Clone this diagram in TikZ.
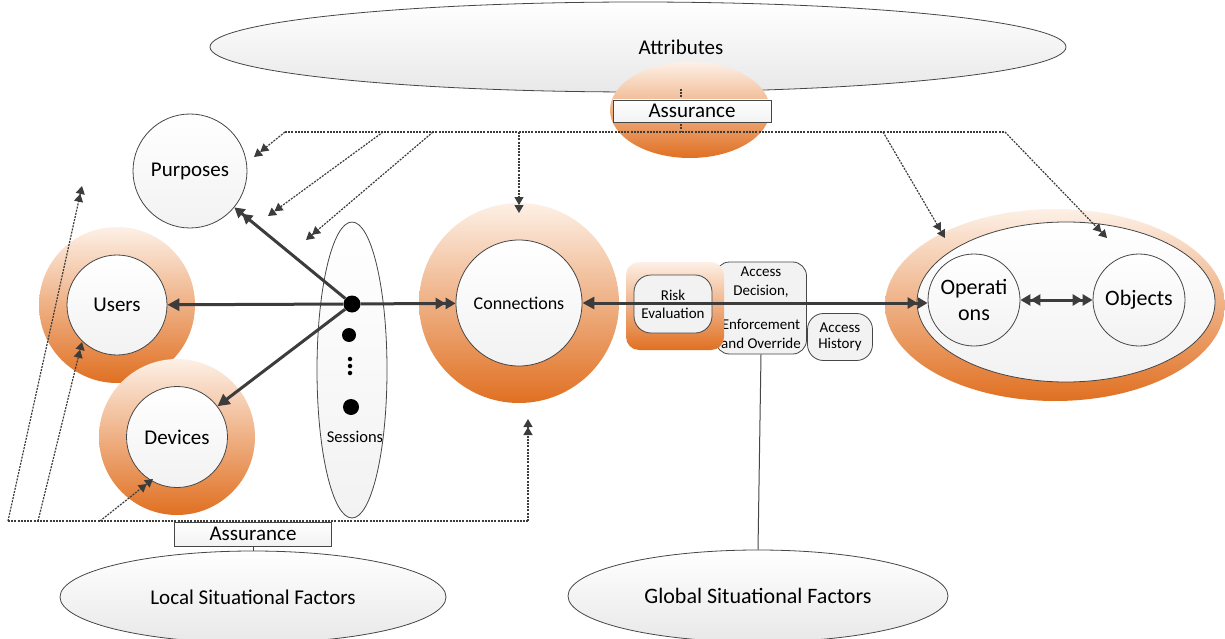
\documentclass[tikz,border=0pt]{standalone}
\usepackage{fontspec}
\setmainfont{Carlito}
\usetikzlibrary{arrows.meta,shapes.geometric,calc}

\definecolor{ringdark}{RGB}{224,112,34}
\definecolor{ringlight}{RGB}{253,240,230}
\definecolor{paper}{RGB}{242,242,242}
\definecolor{ink}{RGB}{60,60,60}
\definecolor{edge}{RGB}{70,70,70}

\newcommand{\bigfont}{\fontsize{21}{25}\selectfont}
\newcommand{\smallfont}{\fontsize{15}{19}\selectfont}

\tikzset{
  ringfill/.style={shading=axis, top color=ringlight, bottom color=ringdark, draw=none},
  disc/.style={circle, inner sep=0pt, top color=white, bottom color=paper, draw=edge, line width=0.8pt, font=\bigfont, align=center},
  oval/.style={ellipse, inner sep=0pt, top color=white, bottom color=paper, draw=edge, line width=0.8pt, font=\bigfont},
  tag/.style={rectangle, inner sep=0pt, top color=white, bottom color=paper, draw=edge, line width=0.8pt, font=\bigfont},
  roundbox/.style={rectangle, rounded corners=14pt, inner sep=0pt, fill=paper, draw=edge, line width=0.8pt, font=\smallfont, align=center},
  solidlink/.style={draw=ink, line width=3pt},
  dotlink/.style={draw=ink, line width=1.2pt, dash pattern=on 2pt off 1.2pt},
  tipone/.style={-{Triangle[length=12pt,width=12pt]}},
  tiptwo/.style={-{Triangle[length=10pt,width=11pt]Triangle[length=10pt,width=11pt]}},
  smalltwo/.style={-{Triangle[length=8pt,width=9pt]Triangle[length=8pt,width=9pt]}},
  dot/.style={circle, fill=black, inner sep=0pt}
}

\begin{document}
\begin{tikzpicture}[x=1pt,y=-1pt]
\useasboundingbox (0,0) rectangle (1225,639);

% attribute store and its assurance level
\node[oval, minimum width=856pt, minimum height=90pt, bottom color=black!9] (attr) at (638,47) {};
\node[font=\bigfont] (attrtext) at (681,47) {Attributes};
\node[ellipse, ringfill, minimum width=160pt, minimum height=96pt] (assurtop) at (690,110) {};

% situational factor pools
\node[oval, minimum width=386pt, minimum height=92pt, bottom color=black!9] (local) at (253,597) {Local Situational Factors};
\node[oval, minimum width=380pt, minimum height=92pt, bottom color=black!9, font=\fontsize{22}{26}\selectfont] (global) at (758,596) {Global Situational Factors};

% purposes, users, devices
\node[disc, minimum size=114pt] (purp) at (190,171) {Purposes};
\node[circle, ringfill, minimum size=156pt] (usersR) at (117,305) {};
\node[disc, minimum size=100pt] (users) at (117,305) {Users};
\node[circle, ringfill, minimum size=156pt] (devR) at (177,437) {};
\node[disc, minimum size=101pt] (dev) at (177,437) {Devices};

% sessions
\node[ellipse, inner sep=0pt, top color=white, bottom color=paper, draw=edge, line width=0.8pt, minimum width=70pt, minimum height=296pt] (sess) at (352,370) {};
\node[dot, minimum size=17pt] (hub) at (352,304) {};
\node[dot, minimum size=14pt] (s2) at (349,335) {};
\node[dot, minimum size=4.5pt] (s3) at (350,359) {};
\node[dot, minimum size=4.5pt] (s4) at (350,366) {};
\node[dot, minimum size=4.5pt] (s5) at (350,373) {};
\node[dot, minimum size=16pt] (s6) at (351,407) {};
\node[font=\fontsize{16.5}{20}\selectfont] (sesstext) at (355,437) {Sessions};

% connections
\node[circle, ringfill, minimum size=200pt] (connR) at (519,303) {};
\node[disc, minimum size=126pt, font=\fontsize{18}{22}\selectfont] (conn) at (519,303) {Connections};

% decision machinery
\node[roundbox, minimum width=91pt, minimum height=92pt] (acc) at (761,308)
  {Access\\Decision,\\[15pt]\makebox[60pt]{Enforcement}\\and Override};
\node[rectangle, rounded corners=13pt, ringfill, minimum width=98pt, minimum height=88pt] (riskR) at (675,306) {};
\node[roundbox, rounded corners=17pt, minimum width=78pt, minimum height=58pt, font=\fontsize{15}{18}\selectfont] (risk) at (673,304) {Risk\\Evaluation};
\node[roundbox, rounded corners=16pt, minimum width=65pt, minimum height=47pt, font=\fontsize{15}{16}\selectfont] (hist) at (840,337) {Access\\History};

% operations and objects
\node[ellipse, ringfill, minimum width=340pt, minimum height=192pt] (opsR) at (1055,305) {};
\node[oval, minimum width=298pt, minimum height=160pt] (opsE) at (1066,302) {};
\node[disc, minimum size=92pt, font=\fontsize{22}{26}\selectfont] (ops) at (974,300) {Operati\\ons};
\node[disc, minimum size=92pt, font=\fontsize{22}{26}\selectfont] (obj) at (1139,300) {Objects};

% attribute distribution (dotted)
\coordinate (a0) at (681,89);
\coordinate (t1) at (285,132);
\coordinate (t2) at (383,132);
\coordinate (t3) at (433,132);
\coordinate (t4) at (519,132);
\coordinate (ta) at (681,132);
\coordinate (t5) at (883,132);
\coordinate (t6) at (1005,132);
\coordinate (e1) at (254,157);
\coordinate (e2) at (268,216);
\coordinate (e3) at (306,240);
\coordinate (e4) at (519,213);
\coordinate (e5) at (945,238);
\coordinate (e6) at (1107,238);
\draw[dotlink] (a0) -- (ta);
\draw[dotlink] (t1) -- (t6);
\draw[dotlink, smalltwo] (t1) -- (e1);
\draw[dotlink, smalltwo] (t2) -- (e2);
\draw[dotlink, smalltwo] (t3) -- (e3);
\draw[dotlink, smalltwo] (t4) -- (e4);
\draw[dotlink, smalltwo] (t5) -- (e5);
\draw[dotlink, smalltwo] (t6) -- (e6);
\node[tag, minimum width=158pt, minimum height=22pt] (atop) at (692,111) {Assurance};

% local situational feeds (dotted)
\coordinate (b0) at (8,521);
\coordinate (b1) at (38,521);
\coordinate (b2) at (100,521);
\coordinate (b3) at (528,521);
\coordinate (f0) at (82,186);
\coordinate (f1) at (82,342);
\coordinate (f2) at (153,479);
\coordinate (f3) at (528,419);
\draw[dotlink] (b0) -- (b3);
\draw[dotlink, smalltwo] (b0) -- (f0);
\draw[dotlink, smalltwo] (b1) -- (f1);
\draw[dotlink, smalltwo] (b2) -- (f2);
\draw[dotlink, smalltwo] (b3) -- (f3);
\node[tag, minimum width=157pt, minimum height=24pt] (abot) at (253,534) {Assurance};
\draw[edge, line width=0.8pt] (abot.south) -- (local.north);

% global situational feed
\draw[edge, line width=1pt] (acc.south) -- (global.north);

% session links
\draw[solidlink, tiptwo] (hub) -- (purp);
\draw[solidlink, tipone] (hub) -- (users);
\draw[solidlink, tipone] (hub) -- (dev);
\draw[solidlink, tiptwo] (hub) -- (conn);

% connection to operations, through the decision point
\draw[solidlink, {Triangle[length=12pt,width=12pt]}-{Triangle[length=10pt,width=11pt]Triangle[length=10pt,width=11pt]}] (conn.east) -- (conn.east -| ops.west);
\draw[solidlink, {Triangle[length=10pt,width=11pt]Triangle[length=10pt,width=11pt]}-{Triangle[length=10pt,width=11pt]Triangle[length=10pt,width=11pt]}] (ops) -- (obj);
\end{tikzpicture}
\end{document}
